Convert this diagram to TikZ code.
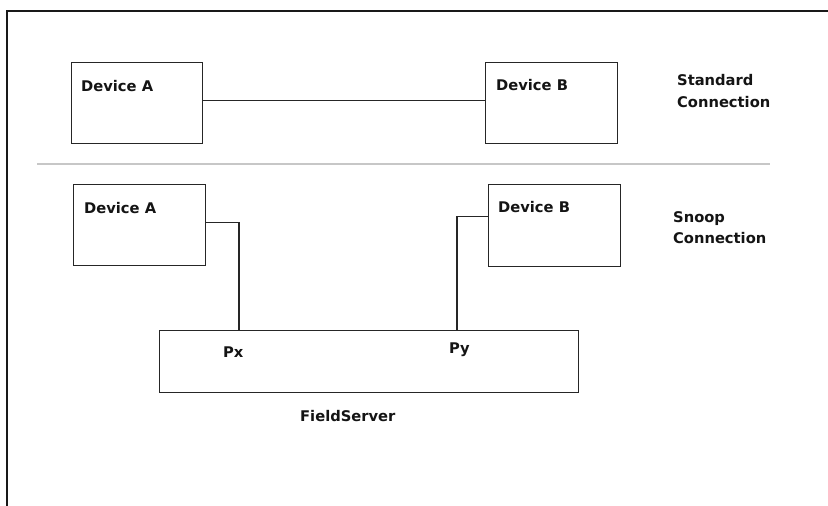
\documentclass[tikz,border=0pt]{standalone}
\usepackage{fontspec}
\setmainfont{DejaVu Sans}
\usetikzlibrary{calc}
\begin{document}
\begin{tikzpicture}[x=1pt,y=-1pt,
  box/.style={draw=black!85, line width=1.3pt, inner sep=0pt, anchor=north west},
  lbl/.style={anchor=base west, inner sep=0pt, font=\bfseries\fontsize{14.7}{21}\selectfont, text=black!92},
  wire/.style={draw=black!85, line width=1.3pt}]
  \useasboundingbox (0,0) rectangle (828,506);
  \fill[white] (0,0) rectangle (828,506);
  % outer frame (top and left edges)
  \draw[line width=2pt, black!90] (828,11) -- (7,11) -- (7,506);

  % standard connection
  \node[box, minimum width=131pt, minimum height=81pt] (A1) at (71,62) {};
  \node[box, minimum width=132pt, minimum height=81pt] (B1) at (485,62) {};
  \node[lbl] (tA1) at (81,91) {Device A};
  \node[lbl] (tB1) at (496,90) {Device B};
  \node[lbl] (std1) at (677,85) {Standard};
  \node[lbl] (std2) at (677,107) {Connection};
  \draw[wire] ($(A1.north east)!0.47!(A1.south east)$) -- ($(B1.north west)!0.47!(B1.south west)$);

  % separator
  \draw[line width=1.5pt, black!22] (37,164) -- (770,164);

  % snoop connection
  \node[box, minimum width=132pt, minimum height=81pt] (A2) at (73,184) {};
  \node[box, minimum width=132pt, minimum height=82pt] (B2) at (488,184) {};
  \node[box, minimum width=419pt, minimum height=62pt] (FS) at (159,330) {};
  \node[lbl] (tA2) at (84,213) {Device A};
  \node[lbl] (tB2) at (498,212) {Device B};
  \node[lbl] (sn1) at (673,222) {Snoop};
  \node[lbl] (sn2) at (673,243) {Connection};
  \node[lbl] (px) at (223,357) {Px};
  \node[lbl] (py) at (449,353) {Py};
  \node[lbl] (fsl) at (300,421) {FieldServer};
  \coordinate (portx) at (239,330);
  \coordinate (porty) at (457,330);
  \draw[wire] ($(A2.north east)!0.47!(A2.south east)$) -| (portx);
  \draw[wire] ($(B2.north west)!0.39!(B2.south west)$) -| (porty);
\end{tikzpicture}
\end{document}
